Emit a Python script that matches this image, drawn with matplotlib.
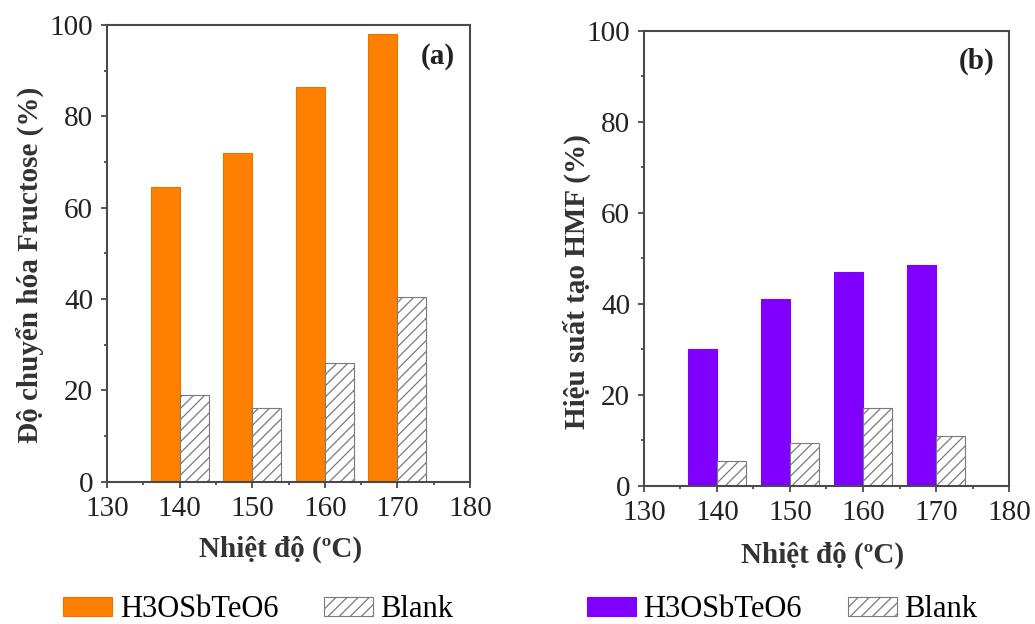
import matplotlib
matplotlib.use("Agg")
import matplotlib.pyplot as plt
from matplotlib.ticker import MultipleLocator

# temperatures (oC) and results for the catalyst vs. blank runs
temps = [140, 150, 160, 170]
conv_catalyst = [64.6, 72.0, 86.4, 98.0]
conv_blank = [19.0, 16.1, 26.1, 40.5]
hmf_catalyst = [30.1, 41.1, 47.1, 48.5]
hmf_blank = [5.5, 9.5, 17.1, 11.0]

x_ticks = [130, 140, 150, 160, 170, 180]
y_ticks = [0, 20, 40, 60, 80, 100]

plt.rcParams["font.family"] = ["Liberation Serif", "DejaVu Serif"]
plt.rcParams["hatch.color"] = "#8a8a8a"
plt.rcParams["hatch.linewidth"] = 0.9

BAR_W = 4
SPINE = "#4a4a4a"


def draw_panel(ax, cat_vals, blank_vals, color, edge, tag, ylabel, leg_x, leg_y):
    """Grouped bars: catalyst left of each temperature, blank on the right."""
    left = [t - BAR_W / 2 for t in temps]
    right = [t + BAR_W / 2 for t in temps]
    ax.bar(left, cat_vals, width=BAR_W, color=color, edgecolor=edge,
           linewidth=0.8, label="H3OSbTeO6")
    ax.bar(right, blank_vals, width=BAR_W, color="white", edgecolor="#7a7a7a",
           linewidth=0.8, hatch="///", label="Blank")

    ax.set_xlim(130, 180)
    ax.set_ylim(0, 100)
    ax.set_xticks(x_ticks)
    ax.set_yticks(y_ticks)
    ax.xaxis.set_minor_locator(MultipleLocator(5))
    ax.yaxis.set_minor_locator(MultipleLocator(10))
    ax.tick_params(which="major", direction="out", length=4, width=1.3,
                   color=SPINE, labelsize=21, labelcolor="#222222", pad=6)
    ax.tick_params(which="minor", direction="out", length=2.5, width=1.3,
                   color=SPINE)
    ax.tick_params(top=False, right=False)
    for s in ax.spines.values():
        s.set_color(SPINE)
        s.set_linewidth(1.5)

    ax.set_xlabel("Nhiệt độ (ºC)", fontsize=21, fontweight="bold",
                  color="#333333")
    ax.set_ylabel(ylabel, fontsize=21, fontweight="bold", color="#333333")
    ax.xaxis.label.set_va("center")
    ax.yaxis.label.set_va("center")

    ax.text(0.912, 0.932, tag, transform=ax.transAxes, fontsize=21,
            fontweight="bold", ha="center", va="center", color="#222222")

    ax.legend(loc="center left", bbox_to_anchor=(leg_x, leg_y), ncol=2,
              frameon=False, fontsize=22, handlelength=1.6,
              handleheight=0.6, handletextpad=0.25, columnspacing=1.5,
              borderaxespad=0, borderpad=0)


fig = plt.figure(figsize=(10.35, 6.24), dpi=100)
ax_a = fig.add_axes([0.1034, 0.228, 0.3507, 0.732])
ax_b = fig.add_axes([0.6222, 0.2212, 0.3527, 0.7296])

draw_panel(ax_a, conv_catalyst, conv_blank, "#ff8000", "#e87400", "(a)",
           "Độ chuyển hóa Fructose (%)", -0.121, -0.28)
draw_panel(ax_b, hmf_catalyst, hmf_blank, "#7f00ff", "#7f00ff", "(b)",
           "Hiệu suất tạo HMF (%)", -0.156, -0.272)

ax_a.xaxis.set_label_coords(0.477, -0.147)
ax_a.yaxis.set_label_coords(-0.212, 0.475)
ax_b.xaxis.set_label_coords(0.49, -0.152)
ax_b.yaxis.set_label_coords(-0.184, 0.45)

fig.savefig("out.png", dpi=100)
